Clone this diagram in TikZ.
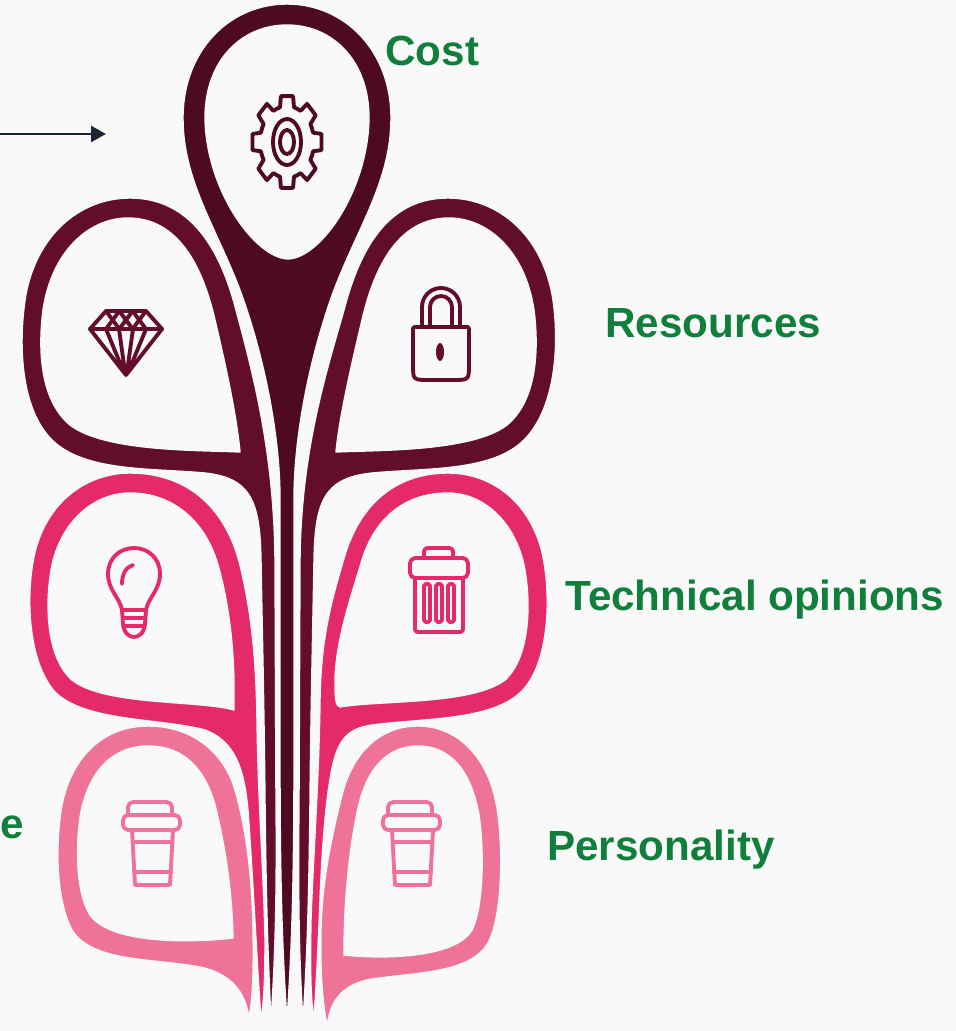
\documentclass[tikz,border=0pt]{standalone}
\usepackage{fontspec}
\setmainfont{Liberation Sans}
\usetikzlibrary{arrows.meta}
\definecolor{fondo}{HTML}{F9F9F9}
\definecolor{vino}{HTML}{4D0A22}
\definecolor{granate}{HTML}{620D2B}
\definecolor{fucsia}{HTML}{E52A68}
\definecolor{rosa}{HTML}{EF7298}
\definecolor{verde}{HTML}{0F7F3B}
\definecolor{tinta}{HTML}{1B2434}

\begin{document}
\begin{tikzpicture}[x=0.02cm, y=-0.02cm, line cap=round, line join=round,
  petalo/.style={fill=#1, even odd rule, draw=fondo, line width=0.8pt},
  icono/.style={draw=#1, line width=2.2pt},
  rotulo/.style={anchor=base west, inner sep=0pt, text=verde,
    font=\fontsize{24}{28}\selectfont\bfseries}]
  \fill[fondo] (0,0) rectangle (956,1031);
  \useasboundingbox (0,0) rectangle (956,1031);

  % los dos petalos rosas de abajo
  \filldraw[petalo=rosa] (249,1017) .. controls (246,1000) and (238,975) .. (200,967)
    .. controls (150,958) and (92,962) .. (72,930)
    .. controls (56,900) and (55,845) .. (62,805)
    .. controls (72,755) and (105,726) .. (148,726)
    .. controls (195,726) and (225,755) .. (235,790)
    .. controls (245,825) and (252,870) .. (253,930)
    .. controls (254,975) and (252,1005) .. (249,1017) -- cycle
    (233,938) .. controls (200,942) and (112,946) .. (90,915)
    .. controls (76,893) and (75,845) .. (81,812)
    .. controls (90,768) and (115,746) .. (148,746)
    .. controls (185,746) and (205,770) .. (215,805)
    .. controls (225,845) and (232,890) .. (233,938) -- cycle;
  \filldraw[petalo=rosa] (327,1026) .. controls (330,1005) and (338,985) .. (372,979)
    .. controls (420,972) and (470,973) .. (488,943)
    .. controls (503,915) and (503,845) .. (497,808)
    .. controls (489,758) and (458,726) .. (418,726)
    .. controls (378,726) and (352,755) .. (342,795)
    .. controls (332,835) and (322,880) .. (321,930)
    .. controls (320,975) and (323,1005) .. (327,1026) -- cycle
    (344,955) .. controls (380,959) and (455,959) .. (472,930)
    .. controls (484,905) and (484,848) .. (479,815)
    .. controls (471,770) and (450,746) .. (418,746)
    .. controls (385,746) and (366,772) .. (358,808)
    .. controls (350,845) and (344,895) .. (344,955) -- cycle;

  % los petalos fucsia
  \filldraw[petalo=fucsia] (261,1020) .. controls (258,980) and (254,900) .. (250,840)
    .. controls (247,790) and (245,745) .. (205,730)
    .. controls (160,718) and (85,722) .. (55,692)
    .. controls (28,662) and (25,595) .. (35,552)
    .. controls (48,500) and (88,473) .. (130,473)
    .. controls (185,473) and (225,505) .. (240,565)
    .. controls (252,615) and (256,660) .. (257,720)
    .. controls (258,800) and (264,880) .. (265,940)
    .. controls (265,980) and (264,1000) .. (261,1020) -- cycle
    (234,710) .. controls (200,700) and (105,706) .. (72,680)
    .. controls (45,656) and (45,600) .. (52,565)
    .. controls (62,520) and (95,493) .. (130,493)
    .. controls (172,493) and (205,520) .. (218,565)
    .. controls (228,600) and (233,640) .. (234,680) -- cycle;
  \filldraw[petalo=fucsia] (314,1018) .. controls (316,990) and (318,950) .. (320,900)
    .. controls (322,850) and (326,790) .. (334,760)
    .. controls (340,738) and (350,728) .. (372,725)
    .. controls (425,718) and (492,721) .. (522,691)
    .. controls (549,663) and (552,597) .. (542,552)
    .. controls (529,500) and (490,473) .. (448,473)
    .. controls (395,473) and (360,505) .. (345,555)
    .. controls (330,605) and (321,640) .. (320,700)
    .. controls (319,780) and (313,860) .. (311,920)
    .. controls (310,975) and (311,1005) .. (314,1018) -- cycle
    (340,707) .. controls (380,700) and (472,705) .. (505,680)
    .. controls (531,656) and (531,600) .. (524,565)
    .. controls (514,520) and (482,493) .. (448,493)
    .. controls (405,493) and (375,518) .. (362,560)
    .. controls (350,600) and (336,640) .. (335,680)
    .. controls (335,700) and (336,706) .. (340,707) -- cycle;

  % los petalos granates
  \filldraw[petalo=granate] (271,1021) .. controls (268,960) and (266,900) .. (265,800)
    .. controls (264,700) and (262,620) .. (261,560)
    .. controls (260,500) and (250,478) .. (205,473)
    .. controls (150,468) and (85,472) .. (52,440)
    .. controls (22,410) and (18,350) .. (25,300)
    .. controls (35,235) and (80,198) .. (130,198)
    .. controls (185,198) and (218,240) .. (236,310)
    .. controls (252,370) and (274,450) .. (275,560)
    -- (276,800) .. controls (277,900) and (275,960) .. (271,1021) -- cycle
    (240,452) .. controls (200,450) and (105,452) .. (70,425)
    .. controls (40,400) and (38,350) .. (43,310)
    .. controls (52,250) and (90,218) .. (128,218)
    .. controls (172,218) and (200,255) .. (215,320)
    .. controls (228,375) and (237,420) .. (240,452) -- cycle;
  \filldraw[petalo=granate] (303,1021) .. controls (307,960) and (309,900) .. (310,800)
    .. controls (311,700) and (313,620) .. (314,560)
    .. controls (315,500) and (325,478) .. (372,473)
    .. controls (425,468) and (492,472) .. (524,440)
    .. controls (554,410) and (560,350) .. (553,300)
    .. controls (543,235) and (498,198) .. (448,198)
    .. controls (393,198) and (362,240) .. (344,310)
    .. controls (327,370) and (301,450) .. (300,560)
    -- (299,800) .. controls (298,900) and (299,960) .. (303,1021) -- cycle
    (336,452) .. controls (376,450) and (472,452) .. (507,425)
    .. controls (537,400) and (539,350) .. (534,310)
    .. controls (525,250) and (487,218) .. (449,218)
    .. controls (405,218) and (377,255) .. (362,320)
    .. controls (349,375) and (339,420) .. (336,452) -- cycle;

  % el petalo central
  \filldraw[petalo=vino] (287,1021) .. controls (283,960) and (280,900) .. (280,760)
    -- (280,500) .. controls (280,430) and (262,350) .. (240,290)
    .. controls (215,225) and (183,180) .. (183,118)
    .. controls (183,50) and (230,4) .. (287,4)
    .. controls (344,4) and (391,50) .. (391,118)
    .. controls (391,180) and (359,225) .. (334,290)
    .. controls (312,350) and (294,430) .. (294,500)
    -- (294,760) .. controls (294,900) and (291,960) .. (287,1021) -- cycle
    (288,259) .. controls (255,258) and (206,190) .. (205,118)
    .. controls (205,60) and (242,25) .. (287,25)
    .. controls (332,25) and (369,60) .. (369,118)
    .. controls (368,190) and (321,258) .. (288,259) -- cycle;

  % engranaje
  \begin{scope}[shift={(287,142)}, yscale=1.33]
    \draw[icono=vino] (-15:27) \foreach \a in {0,45,...,315} {
      -- (\a-10:35) -- (\a+10:35) -- (\a+15:27)
      arc[start angle=\a+15, end angle=\a+30, radius=27] } -- cycle;
  \end{scope}
  \draw[icono=vino] (287,142) ellipse [x radius=14, y radius=23];
  \draw[icono=vino] (287,142) ellipse [x radius=7, y radius=12];

  % diamante
  \draw[icono=granate] (106,311) -- (146,311) -- (162,329) -- (126,375) -- (90,329) -- cycle;
  \draw[icono=granate] (90,329) -- (162,329);
  \foreach \i in {0,1,2} {
    \draw[icono=granate] (106+13.3*\i,311) -- (119.3+13.3*\i,329);
    \draw[icono=granate] (119.3+13.3*\i,311) -- (106+13.3*\i,329);
  }
  \draw[icono=granate] (106,329) -- (122,368) (119,329) -- (125,372)
    (133,329) -- (127,372) (146,329) -- (130,368);

  % candado
  \draw[icono=granate] (422,327) -- (422,307) arc[start angle=180, end angle=360, radius=19] -- (460,327);
  \draw[icono=granate] (430,327) -- (430,307) arc[start angle=180, end angle=360, radius=11] -- (452,327);
  \draw[icono=granate] (417,327) -- (465,327) .. controls (469,327) .. (469,331) -- (469,364)
    .. controls (469,380) .. (453,380) -- (429,380) .. controls (413,380) .. (413,364)
    -- (413,331) .. controls (413,327) .. (417,327) -- cycle;
  \fill[granate] (440,352) ellipse [x radius=4, y radius=9];

  % bombilla
  \draw[icono=fucsia] (122,610) .. controls (120,598) and (108,590) .. (108,574)
    .. controls (108,558) and (120,548) .. (134,548)
    .. controls (148,548) and (160,558) .. (160,574)
    .. controls (160,590) and (148,598) .. (146,610) -- cycle;
  \draw[icono=fucsia] (122,610) -- (123,624) .. controls (124,634) and (130,637) .. (134,637)
    .. controls (138,637) and (144,634) .. (145,624) -- (146,610);
  \draw[icono=fucsia] (123,618) -- (145,618) (124,626) -- (144,626);
  \draw[icono=fucsia] (122,584) .. controls (122,574) and (126,567) .. (133,565);

  % papelera
  \draw[icono=fucsia, rounded corners=2pt] (424,558) -- (424,548) -- (453,548) -- (453,558);
  \draw[icono=fucsia, rounded corners=3pt] (410,558) rectangle (468,578);
  \draw[icono=fucsia] (415,578) -- (415,626) .. controls (415,632) .. (421,632)
    -- (457,632) .. controls (463,632) .. (463,626) -- (463,578);
  \foreach \x in {427,439,451}
    \draw[icono=fucsia, rounded corners=1pt] (\x-3,584) rectangle (\x+3,622);

  % los vasos
  \foreach \dx in {0,260} {
    \draw[icono=rosa, rounded corners=3pt] (128+\dx,815) -- (128+\dx,802) -- (172+\dx,802) -- (172+\dx,815);
    \draw[icono=rosa, rounded corners=3pt] (123+\dx,815) rectangle (180+\dx,830);
    \draw[icono=rosa] (132+\dx,830) -- (135+\dx,885) -- (170+\dx,885) -- (173+\dx,830);
    \draw[icono=rosa] (133+\dx,842) -- (172+\dx,842) (134+\dx,872) -- (171+\dx,872);
  }

  % rotulos
  \node[rotulo] (coste) at (385,65) {Cost};
  \node[rotulo] (recursos) at (605,337) {Resources};
  \node[rotulo] (tecnica) at (565,610) {Technical opinions};
  \node[rotulo] (personalidad) at (547,860) {Personality};
  \node[rotulo] (letra) at (0,838) {e};

  % la flecha
  \coordinate (inicio) at (0,134);
  \coordinate (fin) at (106,134);
  \draw[tinta, line width=1.7pt, -{Triangle[length=8.5pt, width=9pt]}] (inicio) -- (fin);
\end{tikzpicture}
\end{document}
